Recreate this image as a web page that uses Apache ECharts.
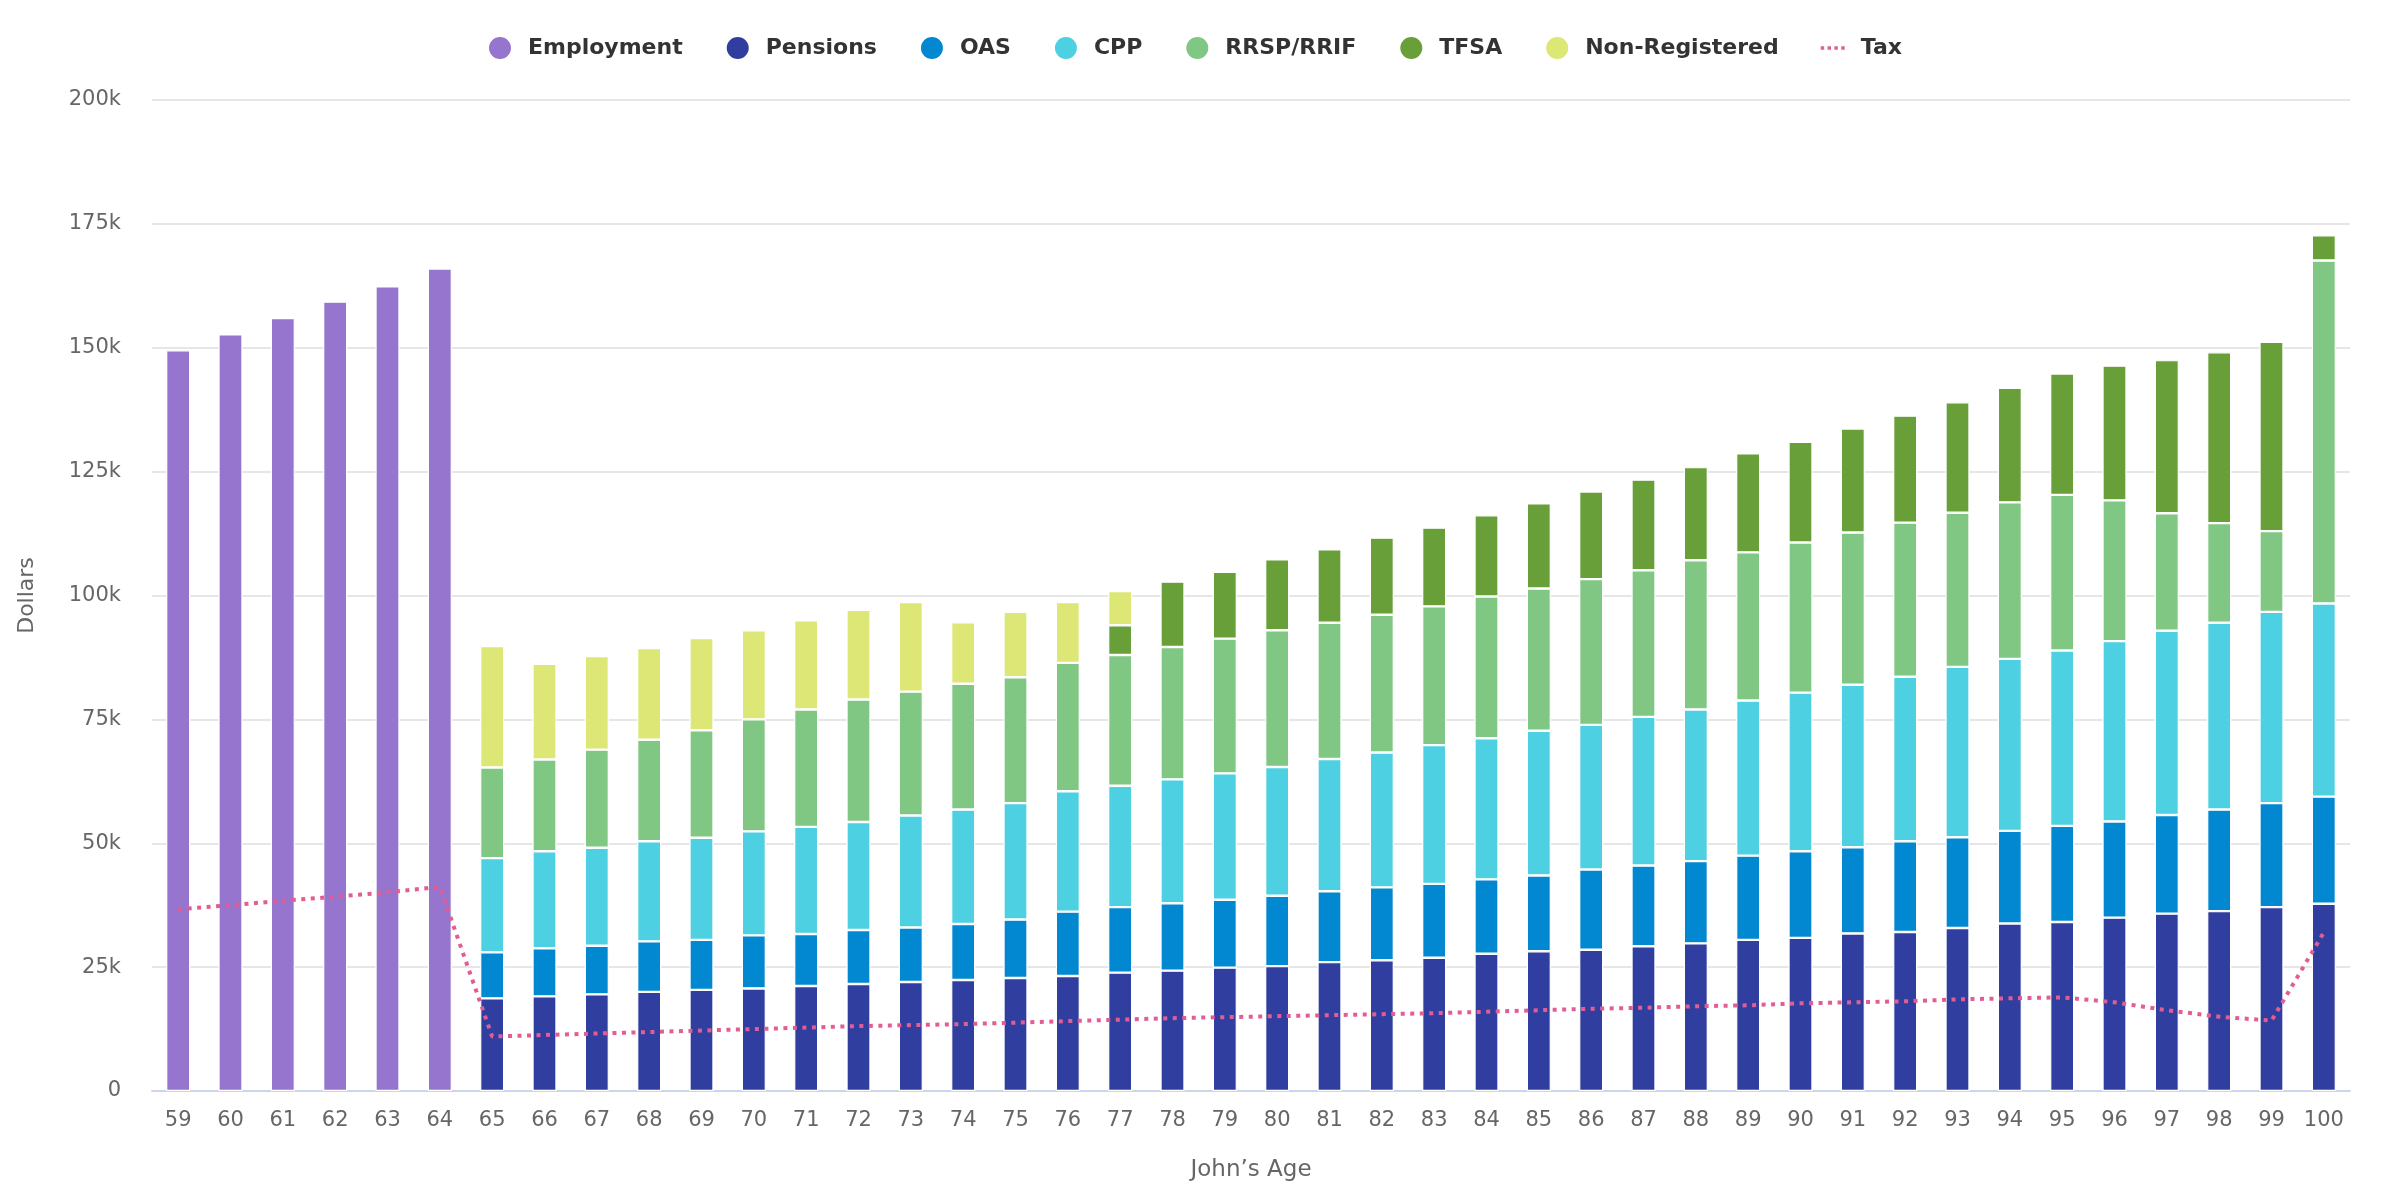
<!DOCTYPE html>
<html>
<head>
<meta charset="utf-8">
<title>Income by age</title>
<script src="https://cdn.jsdelivr.net/npm/echarts@6/dist/echarts.min.js"></script>
<style>
  html, body { margin: 0; padding: 0; background: #fff; }
  #main { width: 2400px; height: 1200px; }
</style>
</head>
<body>
<div id="main"></div>
<script>
// ages on the x axis
var ages = [59,60,61,62,63,64,65,66,67,68,69,70,71,72,73,74,75,76,77,78,79,80,
            81,82,83,84,85,86,87,88,89,90,91,92,93,94,95,96,97,98,99,100];

// values in thousands of dollars
var employment = [149.5,152.7,156.0,159.3,162.4,166.0,
  null,null,null,null,null,null,null,null,null,null,null,null,null,null,null,null,null,null,
  null,null,null,null,null,null,null,null,null,null,null,null,null,null,null,null,null,null];
var pensions = [null,null,null,null,null,null,
  18.7,19.1,19.5,20.0,20.4,20.7,21.2,21.6,22.0,22.4,22.8,23.2,23.9,24.3,24.9,25.2,
  26.0,26.4,26.9,27.7,28.2,28.5,29.2,29.8,30.5,30.9,31.8,32.1,32.9,33.8,34.1,35.0,35.8,36.3,37.1,37.8];
var oas = [null,null,null,null,null,null,
  9.3,9.7,9.8,10.2,10.1,10.7,10.5,10.9,11.0,11.3,11.8,13.0,13.2,13.6,13.7,14.2,
  14.3,14.7,14.9,15.0,15.3,16.2,16.3,16.6,17.0,17.5,17.4,18.3,18.3,18.7,19.4,19.4,19.9,20.5,21.0,21.6];
var cpp = [null,null,null,null,null,null,
  19.0,19.6,19.8,20.2,20.6,21.0,21.6,21.8,22.6,23.1,23.5,24.3,24.5,25.0,25.5,26.0,
  26.7,27.2,28.0,28.5,29.2,29.2,30.0,30.6,31.3,32.0,32.8,33.2,34.4,34.7,35.4,36.4,37.2,37.7,38.6,39.0];
var rrsp = [null,null,null,null,null,null,
  18.3,18.5,19.8,20.5,21.7,22.6,23.7,24.7,25.0,25.4,25.4,25.9,26.4,26.7,27.2,27.6,
  27.5,27.8,28.0,28.6,28.7,29.4,29.6,30.1,29.9,30.3,30.7,31.1,31.1,31.6,31.4,28.4,23.7,20.1,16.3,69.2];
var tfsa = [null,null,null,null,null,null,
  null,null,null,null,null,null,null,null,null,null,null,null,6.0,13.2,13.5,14.3,
  14.8,15.6,15.9,16.4,17.2,17.7,18.3,18.8,20.0,20.3,21.0,21.6,22.3,23.1,24.5,27.2,30.9,34.5,38.2,5.1];
var nonRegistered = [null,null,null,null,null,null,
  24.5,19.3,18.9,18.5,18.6,18.0,18.0,18.1,18.1,12.4,13.2,12.3,6.9,null,null,null,
  null,null,null,null,null,null,null,null,null,null,null,null,null,null,null,null,null,null,null,null];
var tax = [36.7,37.5,38.4,39.2,40.1,41.2,
  11.0,11.3,11.6,11.9,12.2,12.5,12.8,13.1,13.3,13.5,13.8,14.1,14.4,14.7,14.9,15.1,
  15.3,15.5,15.7,16.0,16.3,16.6,16.8,17.1,17.3,17.7,17.9,18.1,18.5,18.7,18.9,17.9,16.3,15.0,14.2,32.0];

var yTicks = [0,25,50,75,100,125,150,175,200];

var seriesNames = ['Employment','Pensions','OAS','CPP','RRSP/RRIF','TFSA','Non-Registered'];
var seriesData = [employment, pensions, oas, cpp, rrsp, tfsa, nonRegistered];
var seriesColors = ['#9575cd','#303f9f','#0288d1','#4dd0e1','#81c784','#689f38','#dce775'];
var taxColor = '#e35d94';

var font = 'DejaVu Sans';

var series = [];
for (var i = 0; i < seriesNames.length; i++) {
    series.push({
        name: seriesNames[i],
        type: 'bar',
        stack: 'income',
        barWidth: '46%',
        data: seriesData[i],
        itemStyle: {
            color: seriesColors[i],
            borderColor: '#ffffff',
            borderWidth: 1.2
        },
        emphasis: { disabled: true }
    });
}
series.push({
    name: 'Tax',
    type: 'line',
    data: tax,
    showSymbol: false,
    symbol: 'none',
    z: 10,
    lineStyle: { color: taxColor, width: 4, type: [4, 5.5] },
    itemStyle: { color: taxColor }
});

var legendData = [];
for (var j = 0; j < seriesNames.length; j++) {
    legendData.push({ name: seriesNames[j], icon: 'circle' });
}
// dotted line icon for the tax line
legendData.push({ name: 'Tax', icon: 'path://M0,0h2v2h-2zM4,0h2v2h-2zM8,0h2v2h-2zM12,0h2v2h-2z' });

var myChart = echarts.init(document.getElementById('main'));
var option = {
    animation: false,
    backgroundColor: '#ffffff',
    textStyle: { fontFamily: font },
    legend: {
        top: 30,
        left: 482,
        itemWidth: 24,
        itemHeight: 24,
        itemGap: 42,
        data: legendData,
        textStyle: {
            fontFamily: font,
            fontSize: 22,
            fontWeight: 'bold',
            color: '#333333',
            padding: [0, 0, 0, 11]
        }
    },
    grid: {
        left: 152,
        right: 50,
        top: 100,
        bottom: 109,
        containLabel: false
    },
    xAxis: {
        type: 'category',
        data: ages,
        name: 'John\u2019s Age',
        nameLocation: 'middle',
        nameGap: 68,
        nameTextStyle: { fontFamily: font, fontSize: 23, color: '#666666' },
        axisLine: { lineStyle: { color: '#ccd6eb', width: 2 } },
        axisTick: { alignWithLabel: true, length: 15, lineStyle: { color: '#ccd6eb', width: 2 } },
        axisLabel: { fontFamily: font, fontSize: 21, color: '#666666', margin: 19, interval: 0 }
    },
    yAxis: {
        type: 'value',
        min: yTicks[0],
        max: yTicks[yTicks.length - 1],
        interval: yTicks[1] - yTicks[0],
        name: 'Dollars',
        nameLocation: 'middle',
        nameGap: 114,
        nameTextStyle: { fontFamily: font, fontSize: 22, color: '#666666' },
        axisLine: { show: false },
        axisTick: { show: false },
        splitLine: { lineStyle: { color: '#e6e6e6', width: 2 } },
        axisLabel: {
            fontFamily: font,
            fontSize: 21,
            color: '#666666',
            margin: 31,
            formatter: function (v) { return v === 0 ? '0' : v + 'k'; }
        }
    },
    series: series
};
myChart.setOption(option);
</script>
</body>
</html>
